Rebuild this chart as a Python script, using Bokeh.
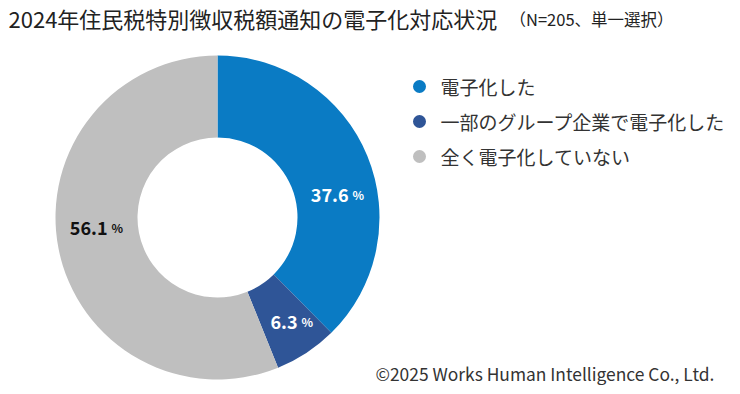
import math
from bokeh.plotting import figure
from bokeh.models import Range1d, ColumnDataSource
from bokeh.core.properties import value
from bokeh.embed import file_html
from bokeh.resources import INLINE

# ---- data ----
categories = ["電子化した", "一部のグループ企業で電子化した", "全く電子化していない"]
shares = [37.6, 6.3, 56.1]
colors = ["#0A7BC4", "#2F5597", "#BFBFBF"]
title = "2024年住民税特別徴収税額通知の電子化対応状況"
subtitle = "（N=205、単一選択）"
credit = "©2025 Works Human Intelligence Co., Ltd."

FONT = "Noto Sans CJK JP"
W, H = 732, 386

p = figure(width=W, height=H, x_range=Range1d(0, W), y_range=Range1d(0, H),
           x_axis_type=None, y_axis_type=None, toolbar_location=None,
           output_backend="svg", min_border=0, outline_line_color=None,
           background_fill_color="white", border_fill_color="white")
p.grid.visible = False

def Y(v):
    return H - v

# donut
cx, cy = 217, Y(217)
total = sum(shares)
starts, ends = [], []
cum = 0.0
for s in shares:
    starts.append(math.pi / 2 - 2 * math.pi * cum / total)
    cum += s
    ends.append(math.pi / 2 - 2 * math.pi * cum / total)
src = ColumnDataSource(dict(start=starts, end=ends, color=colors))
p.annular_wedge(x=cx, y=cy, inner_radius=80, outer_radius=162,
                start_angle="start", end_angle="end", direction="clock",
                fill_color="color", line_color=None, source=src)

# data labels (number bold + small %)
label_x = [348, 297, 107]
label_y = [Y(194), Y(321), Y(227)]
label_col = ["white", "white", "#111111"]
nums = [f"{s:.1f}" for s in shares]
p.text(x=label_x, y=label_y, text=nums, text_align="right", text_baseline="alphabetic",
       text_font=value(FONT), text_font_style="bold", text_font_size="18px",
       text_color=label_col)
p.text(x=[x + 4 for x in label_x], y=label_y, text=["%"] * 3, text_align="left",
       text_baseline="alphabetic", text_font=value(FONT), text_font_style="bold",
       text_font_size="12px", text_color=label_col)

# legend
leg_y = [Y(86), Y(121), Y(156)]
p.scatter(x=[419] * 3, y=leg_y, size=13, marker="circle", fill_color=colors, line_color=None)
p.text(x=[440] * 3, y=leg_y, text=categories, text_align="left", text_baseline="middle",
       text_font=value(FONT), text_font_size="19px", text_color="#333333")

# title + subtitle
p.text(x=[8], y=[Y(17)], text=[title], text_align="left", text_baseline="middle",
       text_font=value(FONT), text_font_size="22px", text_color="#222222")
p.text(x=[509], y=[Y(18.5)], text=[subtitle], text_align="left", text_baseline="middle",
       text_font=value(FONT), text_font_size="16.5px", text_color="#222222")

# credit
p.text(x=[375], y=[Y(373)], text=[credit], text_align="left", text_baseline="middle",
       text_font=value(FONT), text_font_size="17.4px", text_color="#333333")

open("out.html", "w").write(file_html(p, INLINE))
